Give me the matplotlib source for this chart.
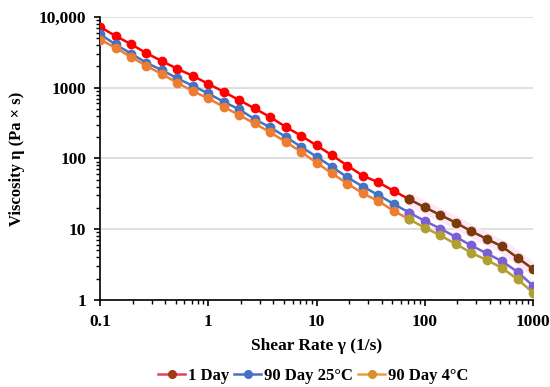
import numpy as np
import matplotlib
matplotlib.use('Agg')
import matplotlib.pyplot as plt
from matplotlib.lines import Line2D
from matplotlib.ticker import LogLocator, FixedLocator, FixedFormatter, NullFormatter

plt.rcParams['font.family'] = ['Liberation Serif', 'DejaVu Serif']
plt.rcParams['font.weight'] = 'bold'

# shear rate, 7 points per decade from 0.1 to 1000 1/s
shear_rate = [0.1, 0.139, 0.193, 0.268, 0.373, 0.518, 0.72,
              1.0, 1.39, 1.93, 2.68, 3.73, 5.18, 7.2,
              10.0, 13.9, 19.3, 26.8, 37.3, 51.8, 72.0,
              100.0, 139.0, 193.0, 268.0, 373.0, 518.0, 720.0, 1000.0]

day1 = [7250, 5400, 4130, 3080, 2380, 1850, 1470, 1135, 875, 668,
        510, 385, 280, 210, 153, 111, 79, 57, 46, 34.7,
        26.4, 20.4, 15.9, 12.4, 9.4, 7.3, 5.7, 3.95, 2.74]

day90_25 = [5720, 4090, 3050, 2250, 1775, 1353, 1064, 830, 632, 494,
            360, 275, 203, 146, 106, 76, 54, 40, 30.4, 22.7,
            17.1, 13.1, 10.2, 7.8, 5.9, 4.56, 3.52, 2.49, 1.59]

day90_4 = [4810, 3660, 2730, 2040, 1555, 1173, 895, 706, 537, 410,
           313, 234, 172, 124, 87, 61.6, 44, 32.1, 25, 18.1,
           13.8, 10.5, 8.2, 6.18, 4.66, 3.67, 2.83, 1.96, 1.27]

labels = ['1 Day', '90 Day 25°C', '90 Day 4°C']
# (low shear colour, high shear colour)
colors = [('#FF0000', '#7B3A0A'), ('#4472C4', '#7B5FD6'), ('#ED7D31', '#B0A030')]
SPLIT = 20  # index where the second measurement range starts

fig = plt.figure(figsize=(5.5, 3.87), dpi=100)
ax = fig.add_axes([0.182, 0.225, 0.787, 0.731])

x = np.array(shear_rate)
for i, (series, (c1, c2)) in enumerate(zip([day1, day90_25, day90_4], colors)):
    y = np.array(series)
    if i == 0:
        ax.plot(x[SPLIT:], y[SPLIT:], color='#FFE6F6', lw=9, solid_capstyle='butt', zorder=1)
    ax.plot(x[:SPLIT + 1], y[:SPLIT + 1], color=c1, lw=1.8, marker='o', ms=6, zorder=3)
    ax.plot(x[SPLIT:], y[SPLIT:], color=c2, lw=1.8, marker='o', ms=6, zorder=3)

ax.set_xscale('log')
ax.set_yscale('log')
ax.set_xlim(0.1, 1000)
ax.set_ylim(1, 10000)

ax.xaxis.set_major_locator(FixedLocator([0.1, 1, 10, 100, 1000]))
ax.xaxis.set_major_formatter(FixedFormatter(['0.1', '1', '10', '100', '1000']))
ax.xaxis.set_minor_locator(LogLocator(base=10, subs=np.arange(2, 10)))
ax.xaxis.set_minor_formatter(NullFormatter())
ax.yaxis.set_major_locator(FixedLocator([1, 10, 100, 1000, 10000]))
ax.yaxis.set_major_formatter(FixedFormatter(['1', '10', '100', '1000', '10,000']))
ax.yaxis.set_minor_locator(LogLocator(base=10, subs=np.arange(2, 10)))
ax.yaxis.set_minor_formatter(NullFormatter())

ax.grid(axis='y', which='major', color='#D9D9D9', lw=1.2, zorder=0)
ax.set_axisbelow(True)
for side in ['top', 'right']:
    ax.spines[side].set_visible(False)
for side in ['left', 'bottom']:
    ax.spines[side].set_linewidth(1.2)
ax.tick_params(which='major', direction='out', length=4, width=1.2, labelsize=12.5, pad=6)
ax.tick_params(which='minor', direction='out', length=3, width=1)

ax.set_xlabel('Shear Rate γ (1/s)', fontsize=12.5, fontweight='bold', labelpad=6)
ax.set_ylabel('Viscosity η (Pa × s)', fontsize=12, fontweight='bold', labelpad=10)

handles = [
    Line2D([], [], color='#E8405A', lw=1.8, marker='o', ms=5.5, mfc='#A33A12', mec='#A33A12'),
    Line2D([], [], color='#4472C4', lw=1.8, marker='o', ms=5.5),
    Line2D([], [], color='#ED9D41', lw=1.8, marker='o', ms=5.5, mfc='#D8902E', mec='#D8902E'),
]
fig.legend(handles, labels, loc='lower center', bbox_to_anchor=(0.57, -0.03), ncol=3,
           frameon=False, fontsize=12, handlelength=1.6, handletextpad=0.2, columnspacing=0.3)

fig.savefig('out.png', dpi=100)
